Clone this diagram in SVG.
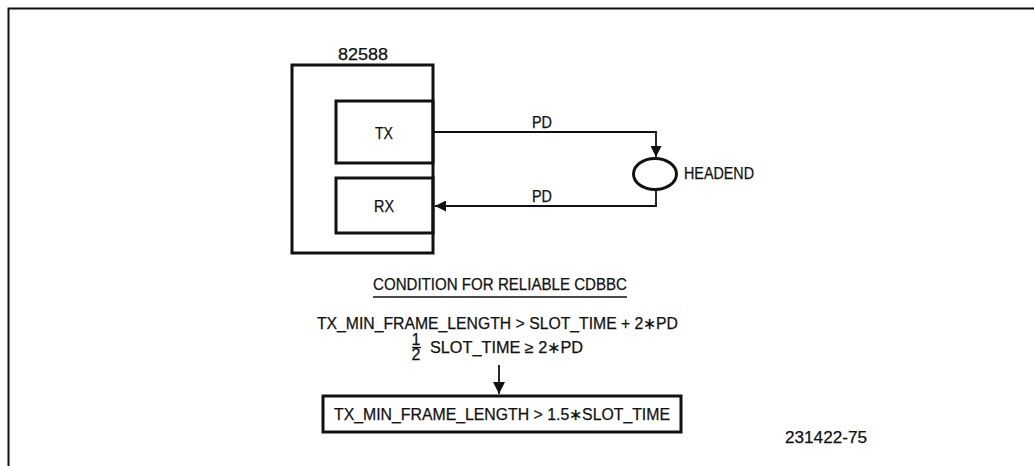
<svg xmlns="http://www.w3.org/2000/svg" width="1034" height="466" viewBox="0 0 1034 466">
<style>
text{font-family:"Liberation Sans",Arial,sans-serif;fill:#111;stroke:#111;stroke-width:0.25;font-size:16px}
.thick{fill:none;stroke:#111;stroke-width:3}
.line{fill:none;stroke:#111;stroke-width:1.8}
.c{text-anchor:middle}
</style>
<defs>
<marker id="ah" viewBox="0 0 10 10" refX="10" refY="5" markerWidth="11" markerHeight="11" markerUnits="userSpaceOnUse" orient="auto">
<path d="M0,0 L10,5 L0,10 Z" fill="#111"/>
</marker>
<marker id="ah2" viewBox="0 0 10 10" refX="10" refY="5" markerWidth="12" markerHeight="12" markerUnits="userSpaceOnUse" orient="auto">
<path d="M0,0 L10,5 L0,10 Z" fill="#111"/>
</marker>
</defs>
<rect width="1034" height="466" fill="#fff"/>
<path d="M8.5,466 V8.5 H1034" fill="none" stroke="#111" stroke-width="2"/>
<g id="chip">
<rect x="292" y="65" width="141" height="188" class="thick"/>
<text x="363" y="60" class="c" font-size="17" textLength="50" lengthAdjust="spacingAndGlyphs">82588</text>
</g>
<g id="tx">
<rect x="336" y="101" width="97" height="62" class="thick"/>
<text x="384" y="139" class="c" font-size="16.5" textLength="18" lengthAdjust="spacingAndGlyphs">TX</text>
</g>
<g id="rx">
<rect x="336" y="178" width="97" height="55" class="thick"/>
<text x="384" y="212" class="c" font-size="16.5" textLength="20" lengthAdjust="spacingAndGlyphs">RX</text>
</g>
<g id="headend">
<ellipse cx="655" cy="174" rx="21.5" ry="15.5" class="thick"/>
<text x="684" y="179" font-size="16.5" textLength="70" lengthAdjust="spacingAndGlyphs">HEADEND</text>
</g>
<g id="connectors">
<path d="M434,132 H656 V157" class="line" marker-end="url(#ah)"/>
<text x="542" y="128" class="c" font-size="15" textLength="20" lengthAdjust="spacingAndGlyphs">PD</text>
<path d="M656,190 V206 H435" class="line" marker-end="url(#ah)"/>
<text x="542" y="202" class="c" font-size="15" textLength="20" lengthAdjust="spacingAndGlyphs">PD</text>
<path d="M499,365 V394" class="line" stroke-width="2" marker-end="url(#ah2)"/>
</g>
<g id="condition">
<text x="500" y="290" class="c" font-size="15" textLength="254" lengthAdjust="spacingAndGlyphs">CONDITION FOR RELIABLE CDBBC</text>
<line x1="373" y1="297" x2="627" y2="297" stroke="#111" stroke-width="1.4"/>
<text x="317" y="329" textLength="361" lengthAdjust="spacingAndGlyphs">TX_MIN_FRAME_LENGTH &gt; SLOT_TIME + 2∗PD</text>
<text x="416" y="345" class="c" font-size="13">1</text>
<line x1="412" y1="347.5" x2="421" y2="347.5" stroke="#111" stroke-width="1.3"/>
<text x="416" y="360" class="c" font-size="13">2</text>
<text x="430" y="353" textLength="153" lengthAdjust="spacingAndGlyphs">SLOT_TIME ≥ 2∗PD</text>
</g>
<g id="result">
<rect x="323" y="396" width="358" height="36" class="thick"/>
<text x="334" y="420" textLength="336" lengthAdjust="spacingAndGlyphs">TX_MIN_FRAME_LENGTH &gt; 1.5∗SLOT_TIME</text>
</g>
<text x="785" y="443" textLength="82" lengthAdjust="spacingAndGlyphs" font-size="14">231422-75</text>
</svg>
